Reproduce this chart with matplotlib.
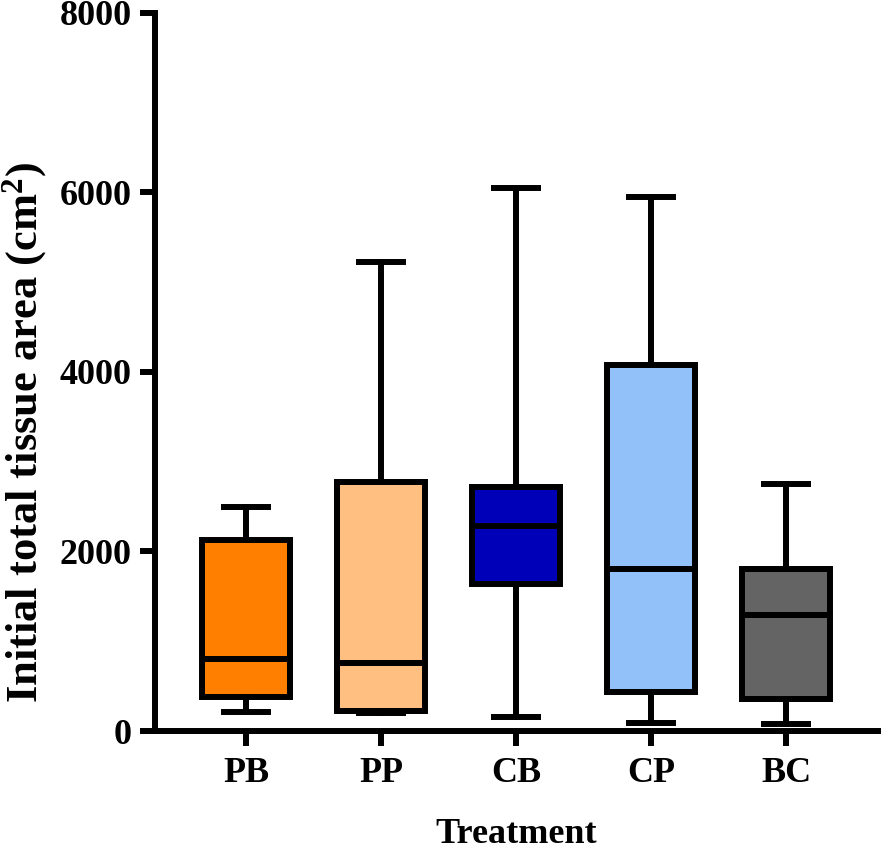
import matplotlib
matplotlib.use("Agg")
import matplotlib.pyplot as plt

categories = ["PB", "PP", "CB", "CP", "BC"]
whisker_low = [215, 200, 160, 86, 75]
q1 = [382, 226, 1635, 438, 357]
median = [806, 761, 2288, 1805, 1292]
q3 = [2128, 2771, 2715, 4075, 1802]
whisker_high = [2492, 5229, 6047, 5946, 2752]
colors = ["#FF8000", "#FFBF80", "#0000B8", "#92C0F8", "#646464"]

plt.rcParams['font.family'] = ['Liberation Serif', 'DejaVu Serif']
plt.rcParams['font.weight'] = 'bold'
plt.rcParams['mathtext.fontset'] = 'custom'
plt.rcParams['mathtext.rm'] = 'Liberation Serif:bold'
plt.rcParams['mathtext.it'] = 'Liberation Serif:bold'
plt.rcParams['mathtext.bf'] = 'Liberation Serif:bold'

fig = plt.figure(figsize=(8.86, 8.52), dpi=100)
ax = fig.add_axes([155/886, 1 - 731/852, (878-155)/886, (731-12.7)/852])

stats = []
for i, c in enumerate(categories):
    stats.append(dict(label=c, whislo=whisker_low[i], q1=q1[i], med=median[i],
                      q3=q3[i], whishi=whisker_high[i], fliers=[]))

lw = 4.3
bp = ax.bxp(stats, positions=range(1, 6), widths=0.65, patch_artist=True,
            showfliers=False, capwidths=0.33,
            boxprops=dict(linewidth=lw, edgecolor='black'),
            medianprops=dict(linewidth=lw, color='black'),
            whiskerprops=dict(linewidth=lw, color='black'),
            capprops=dict(linewidth=lw, color='black'))
for patch, col in zip(bp['boxes'], colors):
    patch.set_facecolor(col)
    patch.set_joinstyle('miter')

ax.set_xlim(0.326, 5.68)
ax.set_ylim(0, 8000)
ax.set_yticks([0, 2000, 4000, 6000, 8000])
ax.set_xticks(range(1, 6))
ax.set_xticklabels(categories)
for s in ['top', 'right']:
    ax.spines[s].set_visible(False)
for s in ['left', 'bottom']:
    ax.spines[s].set_linewidth(lw)
ax.tick_params(axis='both', width=lw, length=11, labelsize=26, pad=6)
ax.tick_params(axis='x', pad=8)
ax.set_ylabel("Initial total tissue area (cm$^{2}$)", fontsize=32, fontweight='bold')
ax.yaxis.set_label_coords(-0.147, 0.416)
ax.set_xlabel("Treatment", fontsize=26, fontweight='bold', labelpad=20)
for lab in ax.get_xticklabels() + ax.get_yticklabels():
    lab.set_fontweight('bold')

fig.savefig("out.png", dpi=100)
